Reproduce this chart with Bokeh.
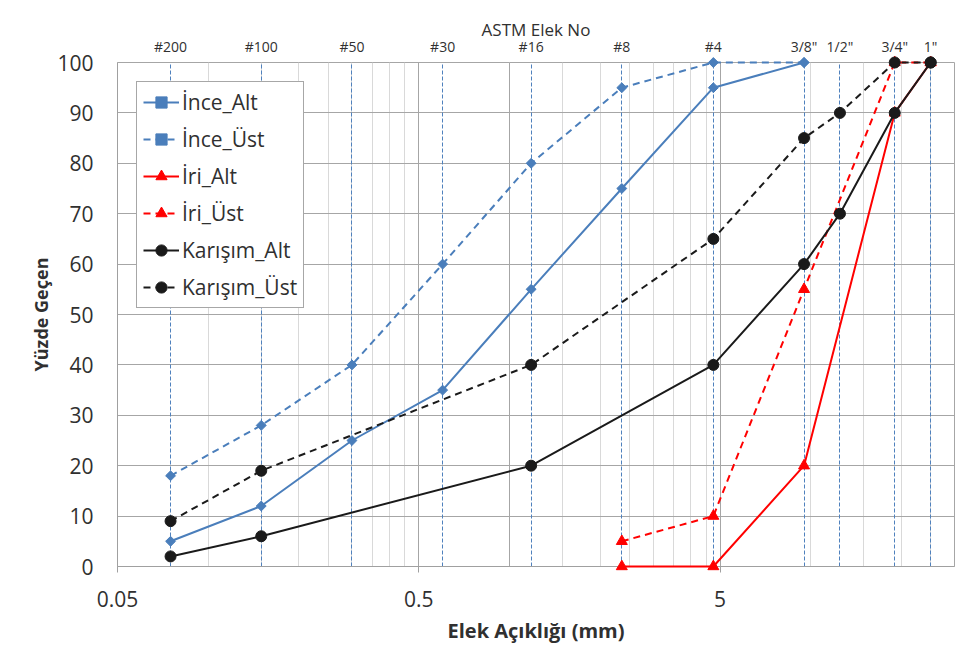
from bokeh.plotting import figure
from bokeh.models import FixedTicker, LogAxis, Legend, LegendItem, Grid, Range1d
from bokeh.embed import file_html
from bokeh.resources import INLINE

# ---- data ----
sieve_mm = [0.075, 0.15, 0.3, 0.6, 1.18, 2.36, 4.75, 9.5, 12.5, 19.0, 25.0]
sieve_labels = ["#200", "#100", "#50", "#30", "#16", "#8", "#4", '3/8"', '1/2"', '3/4"', '1"']

ince_x = [0.075, 0.15, 0.3, 0.6, 1.18, 2.36, 4.75, 9.5]
ince_alt = [5, 12, 25, 35, 55, 75, 95, 100]
ince_ust = [18, 28, 40, 60, 80, 95, 100, 100]

iri_x = [2.36, 4.75, 9.5, 19.0, 25.0]
iri_alt = [0, 0, 20, 90, 100]
iri_ust = [5, 10, 55, 100, 100]

kar_x = [0.075, 0.15, 1.18, 4.75, 9.5, 12.5, 19.0, 25.0]
kar_alt = [2, 6, 20, 40, 60, 70, 90, 100]
kar_ust = [9, 19, 40, 65, 85, 90, 100, 100]

x_major = [0.05, 0.5, 5]
x_minor = [0.1, 0.15, 0.2, 0.25, 0.3, 0.35, 0.4, 0.45,
           1, 1.5, 2, 2.5, 3, 3.5, 4, 4.5,
           10, 15, 20, 25]
x_extra_major = [1.0]
y_ticks = [0, 10, 20, 30, 40, 50, 60, 70, 80, 90, 100]

FONT = "Open Sans"
TXT = "#303030"

p = figure(width=979, height=646, x_axis_type="log",
           x_range=Range1d(0.05, 30), y_range=Range1d(0, 100),
           output_backend="svg", toolbar_location=None,
           min_border_left=117, min_border_right=25,
           min_border_top=62, min_border_bottom=79)
p.outline_line_color = "#a6a6a6"
p.background_fill_color = "white"
p.border_fill_color = "white"

# bottom axis
xt = FixedTicker(ticks=x_major, minor_ticks=x_minor)
bx = p.below[0]
bx.ticker = xt
bx.major_label_overrides = {v: str(v) for v in x_major}
bx.major_label_text_font = FONT
bx.major_label_text_font_size = "21px"
bx.major_label_text_color = TXT
bx.major_label_standoff = 18
bx.major_tick_out = 6
bx.major_tick_in = 0
bx.major_tick_line_color = "#a0a0a0"
bx.minor_tick_line_color = None
bx.axis_line_color = "#a0a0a0"
bx.axis_label = "Elek Açıklığı (mm)"
bx.axis_label_text_font = FONT
bx.axis_label_text_font_style = "bold"
bx.axis_label_text_font_size = "20px"
bx.axis_label_text_color = TXT
bx.axis_label_standoff = 7

# left axis
yt = FixedTicker(ticks=y_ticks)
ly = p.left[0]
ly.ticker = yt
ly.major_label_text_font = FONT
ly.major_label_text_font_size = "21px"
ly.major_label_text_color = TXT
ly.major_label_standoff = 24
ly.major_tick_out = 0
ly.major_tick_in = 0
ly.minor_tick_line_color = None
ly.axis_line_color = "#a0a0a0"
ly.axis_label = "Yüzde Geçen"
ly.axis_label_text_font = FONT
ly.axis_label_text_font_style = "bold"
ly.axis_label_text_font_size = "18px"
ly.axis_label_text_color = TXT
ly.axis_label_standoff = 1

# grids
p.xgrid.ticker = xt
p.xgrid.grid_line_color = "#a6a6a6"
p.xgrid.minor_grid_line_color = "#d9d9d9"
p.ygrid.ticker = yt
p.ygrid.grid_line_color = "#a6a6a6"
p.add_layout(Grid(dimension=0, ticker=FixedTicker(ticks=x_extra_major),
                  grid_line_color="#a6a6a6"))
p.add_layout(Grid(dimension=0, ticker=FixedTicker(ticks=sieve_mm),
                  grid_line_color="#4f81bd", grid_line_dash="4 2",
                  grid_line_width=1))

# top axis with sieve numbers
top = LogAxis(ticker=FixedTicker(ticks=sieve_mm),
              major_label_overrides={s: l for s, l in zip(sieve_mm, sieve_labels)},
              axis_label="ASTM Elek No")
top.axis_line_color = None
top.major_tick_line_color = None
top.minor_tick_line_color = None
top.major_label_text_font = FONT
top.major_label_text_font_size = "14px"
top.major_label_text_color = TXT
top.major_label_standoff = 1
top.axis_label_text_font = FONT
top.axis_label_text_font_size = "17px"
top.axis_label_text_font_style = "normal"
top.axis_label_text_color = TXT
top.axis_label_standoff = -7
p.add_layout(top, "above")

BLUE = "#4a7ebb"
RED = "#ff0000"
BLACK = "#1a1a1a"

series = [
    ("İnce_Alt", ince_x, ince_alt, BLUE, "solid", "square", 7, 0.785398),
    ("İnce_Üst", ince_x, ince_ust, BLUE, "7 5", "square", 7, 0.785398),
    ("İri_Alt", iri_x, iri_alt, RED, "solid", "triangle", 11, 0.0),
    ("İri_Üst", iri_x, iri_ust, RED, "7 5", "triangle", 11, 0.0),
    ("Karışım_Alt", kar_x, kar_alt, BLACK, "solid", "circle", 11, 0.0),
    ("Karışım_Üst", kar_x, kar_ust, BLACK, "7 5", "circle", 11, 0.0),
]

items = []
for name, xs, ys, col, dash, mk, sz, ang in series:
    lr = p.line(xs, ys, line_color=col, line_width=2, line_dash=dash, level="overlay")
    sr = p.scatter(xs, ys, marker=mk, size=sz, angle=ang, fill_color=col,
                   line_color=col, level="overlay")
    items.append(LegendItem(label=name, renderers=[lr, sr]))

legend = Legend(items=items, location="top_left", margin=19,
                padding=6, spacing=9, label_height=28, glyph_height=28,
                glyph_width=36, label_standoff=3,
                label_text_font=FONT, label_text_font_size="21px",
                label_text_color=TXT,
                border_line_color="#505050", border_line_width=1,
                background_fill_color="white", background_fill_alpha=1.0)
p.add_layout(legend, "center")

open("out.html", "w").write(file_html(p, INLINE))
